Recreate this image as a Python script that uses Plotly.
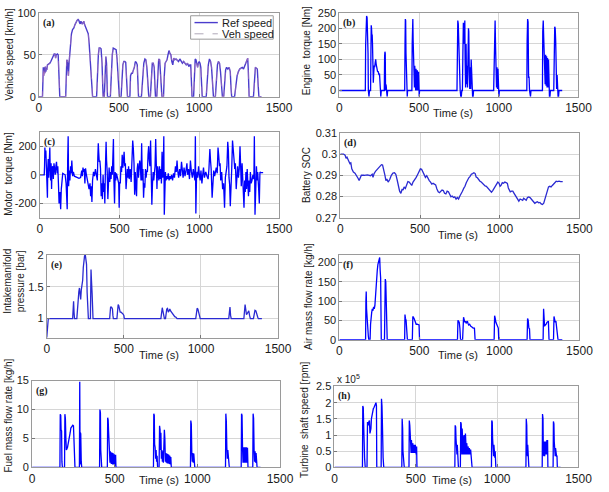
import plotly.graph_objects as go

W, H = 609, 492

# ---------------- data (time [s], value) ----------------
REF_SPEED = [(0,0),(22,0),(27,35),(30,25),(33,35),(37,28),(40,36),(43,30),(46,34),(49,32),(53,38),(60,39),(68,40),(74,42),(80,45),(88,50),(95,51),(100,51),(104,46),(108,50),(115,51),(120,50),(125,30),(130,0),
 (167,0),(170,40),(174,44),(178,43),(181,30),(184,25),(188,40),(193,55),(198,65),(203,75),(210,80),(218,82),(225,86),(232,90),(238,91),(244,92),(249,91),(254,88),(258,87),(262,90),(266,89),(270,87),(275,88),(280,90),(285,86),(290,84),(296,80),(302,78),(308,75),(313,65),(320,45),(326,25),(331,8),(335,0),
 (360,0),(366,35),(371,50),(376,58),(382,58),(388,57),(394,40),(398,15),(401,0),(408,0),(413,35),(418,48),(422,40),(425,15),(428,0),
 (446,0),(452,30),(458,50),(464,58),(470,57),(476,57),(482,56),(488,45),(495,25),(502,0),(513,0),(518,25),(524,38),(530,42),(536,42),(542,41),(548,20),(553,0),
 (568,0),(572,25),(578,28),(584,28),(590,32),(596,35),(602,42),(608,41),(614,38),(618,15),(622,0),(640,0),(648,25),(655,40),(662,45),(668,44),(674,35),(680,15),(686,0),
 (696,0),(702,25),(708,40),(714,40),(720,35),(724,15),(728,0),(736,0),(742,30),(748,45),(754,44),(760,30),(765,10),(768,0),
 (778,0),(783,25),(788,40),(794,42),(800,44),(806,50),(812,55),(818,52),(824,50),(830,42),(836,38),(842,46),(848,44),(856,45),(864,44),(872,42),(880,45),(888,43),(896,40),(904,42),(912,40),(920,38),(928,40),(936,36),(942,38),(948,38),(952,20),(956,0),
 (966,0),(971,30),(976,45),(981,44),(986,38),(991,35),(996,40),(1001,42),(1006,40),(1011,35),(1016,15),(1020,0),
 (1045,0),(1052,25),(1058,38),(1065,45),(1072,42),(1078,35),(1084,15),(1090,0),(1102,0),(1108,25),(1115,38),(1121,42),(1128,40),(1134,30),(1140,10),(1146,0),
 (1154,0),(1160,20),(1166,32),(1172,35),(1180,33),(1188,35),(1195,30),(1200,10),(1204,0),
 (1222,0),(1230,15),(1238,25),(1246,30),(1254,33),(1262,34),(1270,35),(1278,33),(1286,37),(1294,40),(1300,44),(1304,46),(1308,30),(1313,0),
 (1340,0),(1346,25),(1352,35),(1358,34),(1364,33),(1369,15),(1374,0),(1390,0)]

ENGINE_TORQUE = [(0,0),(163,0),(165,145),(168,230),(171,240),(174,235),(177,200),(180,120),(182,0),(184,-20),(186,-20),(189,0),
 (196,0),(198,120),(200,210),(202,200),(204,175),(206,180),(208,150),(210,100),(213,25),(216,60),(219,80),(222,75),(225,90),(228,100),(231,85),(234,70),(237,65),(240,60),(243,62),(246,55),(249,50),(252,55),(254,40),(256,0),(258,-20),(260,-20),(263,0),
 (282,0),(284,110),(286,125),(288,120),(290,0),(292,20),(294,15),(296,0),(298,-20),(300,-20),(303,0),
 (410,0),(412,150),(414,230),(416,225),(418,120),(420,80),(422,0),(424,-20),(426,-20),(428,0),
 (455,0),(457,150),(459,225),(461,230),(463,160),(465,100),(467,20),(469,80),(471,10),(473,80),(475,5),(477,75),(479,0),(481,70),(483,5),(485,70),(487,0),(489,65),(491,5),(493,60),(495,0),(497,60),(499,0),(501,-20),(503,0),
 (738,0),(740,180),(743,225),(746,215),(749,140),(752,100),(755,50),(758,0),(762,-20),(765,-20),(768,0),
 (772,0),(775,120),(778,218),(781,200),(784,150),(787,225),(789,100),(792,10),(795,150),(798,20),(801,80),(804,10),(807,80),(810,200),(812,190),(815,60),(818,5),(821,75),(824,5),(827,100),(830,50),(833,0),(836,-20),(839,-20),(842,0),
 (968,0),(971,150),(974,215),(977,225),(980,140),(983,60),(986,10),(989,75),(992,5),(995,70),(998,0),(1001,-20),(1004,0),
 (1176,0),(1178,160),(1181,230),(1184,220),(1187,40),(1190,45),(1193,0),(1196,-20),(1199,-20),(1202,0),
 (1274,0),(1276,190),(1279,225),(1282,170),(1285,110),(1288,120),(1291,20),(1294,115),(1297,15),(1300,110),(1303,10),(1306,105),(1309,10),(1312,100),(1315,0),(1318,-20),(1321,-20),(1324,0),
 (1345,0),(1348,135),(1351,205),(1354,200),(1357,160),(1360,60),(1363,5),(1366,50),(1369,0),(1372,-20),(1375,-20),(1378,0),(1398,0)]

MOTOR_TORQUE = [(0,0),(27,0),(29,60),(31,190),(34,120),(37,170),(40,40),(43,100),(45,-60),(47,-160),(49,40),(52,110),(55,-20),(58,130),(62,190),(64,60),(67,-40),(70,80),(73,-100),(76,50),(80,60),(84,-30),(88,80),(92,40),(96,0),(100,60),(104,90),(108,10),(112,60),(116,-60),(120,-200),(125,-120),(130,-240),(134,-100),(138,0),(143,10),(150,5),(158,0),(164,-60),(168,-150),(171,-240),(174,100),(177,270),(180,-80),(184,30),(188,-40),(192,60),(196,10),(200,100),(205,-10),(210,20),(216,-10),(225,-15),(235,-20),(245,-25),(255,-20),(262,30),(266,-10),(270,50),(274,20),(278,40),(282,-60),(286,45),(290,10),(296,-20),(302,-60),(308,-100),(314,-60),(318,-150),(322,-80),(326,-190),(330,-40),(336,20),(342,-10),(348,40),(354,0),(360,-40),(363,120),(366,220),(369,150),(372,90),(376,100),(380,40),(384,-150),(388,-60),(392,-170),(396,0),(400,-120),(404,-60),(407,-200),(411,60),(415,230),(418,100),(422,20),(426,-170),(430,-40),(434,50),(438,-50),(442,20),(446,-30),(450,60),(454,0),(458,100),(461,250),(464,-40),(468,-200),(472,20),(476,-40),(480,10),(484,-20),(488,-30),(494,-60),(497,-230),(500,-50),(504,-60),(508,60),(512,20),(516,140),(520,50),(524,100),(528,160),(532,60),(536,80),(540,-100),(544,10),(548,40),(552,-20),(556,60),(560,-30),(566,40),(572,-50),(578,120),(582,240),(586,180),(590,80),(594,-140),(598,20),(602,-80),(606,-150),(610,40),(614,80),(618,-20),(622,40),(626,100),(630,60),(634,-40),(638,220),(642,-40),(646,40),(650,-160),(654,-60),(658,-90),(662,40),(666,-20),(670,30),(674,20),(678,140),(682,200),(686,100),(690,60),(694,240),(698,40),(702,-210),(706,-60),(710,20),(714,-40),(718,40),(722,60),(726,250),(730,-60),(734,-100),(738,60),(742,20),(746,-40),(750,60),
 (754,-30),(758,40),(762,-60),(766,160),(770,-20),(774,60),(777,270),(780,-280),(783,-20),(787,20),(791,-40),(795,-10),(800,-30),(805,10),(810,-40),(815,-10),(820,-30),(826,0),(832,-40),(838,10),(844,-20),(850,60),(855,20),(860,100),(864,30),(870,-20),(876,40),(882,-10),(888,90),(892,20),(898,-20),(904,50),(910,-10),(916,30),(922,80),(926,0),(932,40),(938,-30),(944,100),(950,20),(956,-20),(962,40),(968,-20),(972,-40),(975,270),(978,-270),(982,-30),(986,20),(990,-20),(995,60),(1000,0),(1005,-40),(1010,30),(1016,-60),(1022,10),(1026,50),(1032,-20),(1040,20),(1048,-10),(1055,-30),(1060,40),(1066,180),(1070,100),(1074,40),(1080,-160),(1084,-20),(1090,30),(1096,-10),(1100,20),(1106,50),(1112,10),(1117,190),(1121,140),(1126,60),(1130,80),(1134,-40),(1140,20),(1146,-100),(1152,-60),(1158,-230),(1163,-20),(1168,20),(1173,60),(1178,230),(1182,170),(1186,-20),(1190,-70),(1194,-220),(1198,-20),(1203,40),(1208,240),(1212,150),(1218,100),(1222,40),(1226,80),(1231,-100),(1236,0),(1240,60),(1245,-20),(1250,40),(1255,200),(1259,60),(1263,-80),(1268,80),(1272,-40),(1276,-120),(1280,-230),(1284,-40),(1288,-120),(1292,20),(1296,-100),(1300,40),(1304,-60),(1308,-150),(1312,-40),(1316,-120),(1320,20),(1325,-60),(1330,-40),(1336,0),(1342,-30),(1345,270),(1349,-280),(1354,10),(1358,60),(1362,-40),(1366,20),(1372,-100),(1376,-200),(1380,20),(1386,15),(1400,15)]

BATTERY_SOC = [(0,0.300),(20,0.300),(30,0.2995),(36,0.298),(42,0.2985),(48,0.297),(54,0.2965),(60,0.2955),(66,0.2958),(72,0.293),(82,0.2915),(92,0.291),(102,0.290),(112,0.2885),(118,0.2875),(124,0.289),(132,0.290),(150,0.290),(170,0.2902),(190,0.2898),(200,0.2905),(205,0.289),(212,0.2908),(222,0.292),(235,0.293),(248,0.2945),(258,0.295),(265,0.2948),(272,0.293),(280,0.290),(286,0.2875),(292,0.2882),(300,0.2868),(310,0.288),(320,0.290),(330,0.291),(340,0.2912),(348,0.2905),(356,0.288),(364,0.285),(372,0.2825),(380,0.2815),(388,0.2835),(394,0.283),(400,0.2845),(408,0.2838),(416,0.2855),(424,0.287),(432,0.2868),(440,0.2862),(448,0.2852),(456,0.2868),(466,0.2878),(476,0.289),(486,0.2905),(494,0.2918),(502,0.293),(510,0.2928),(518,0.2915),(526,0.2895),(534,0.289),(542,0.2898),(550,0.2885),(558,0.2875),(566,0.2868),(574,0.2858),(582,0.2862),(590,0.2858),(598,0.2855),(606,0.2835),(614,0.2822),(622,0.2818),(630,0.2822),(638,0.283),(646,0.2828),(654,0.2815),(662,0.2812),(670,0.2825),(678,0.2822),(686,0.281),(694,0.2798),(702,0.2802),(710,0.2795),(718,0.2798),(726,0.2788),(734,0.2795),(742,0.2788),(750,0.2802),(758,0.2818),(766,0.2825),(774,0.2838),(782,0.2848),(790,0.2865),(798,0.2878),(806,0.2888),(814,0.2895),(822,0.2905),(830,0.2908),(838,0.2912),(846,0.2908),(852,0.2892),(860,0.2888),(868,0.2878),(876,0.2872),(884,0.2868),(892,0.2862),(900,0.2855),(908,0.285),(916,0.2848),(924,0.2842),(932,0.2835),(940,0.2825),(948,0.282),(956,0.2828),(964,0.2838),(972,0.2852),(980,0.2862),(988,0.2868),(996,0.2862),(1002,0.2848),(1008,0.2852),(1016,0.2865),(1024,0.2862),(1032,0.2868),(1040,0.2865),(1048,0.2862),(1054,0.284),(1060,0.2832),(1066,0.2822),(1074,0.2825),(1082,0.2825),(1090,0.2815),(1098,0.2805),(1106,0.279),(1114,0.2782),(1120,0.2778),(1128,0.2788),(1136,0.2785),(1144,0.2782),(1150,0.2792),(1158,0.2788),(1166,0.2782),(1174,0.2795),(1182,0.2798),(1190,0.2795),(1198,0.2788),(1206,0.2778),(1214,0.2772),(1220,0.2768),(1228,0.2772),(1236,0.2775),(1244,0.277),(1252,0.2772),(1260,0.2765),(1268,0.2762),(1276,0.2768),(1284,0.279),(1292,0.2815),(1300,0.2835),(1306,0.2845),(1314,0.2848),(1322,0.2845),(1330,0.2852),(1338,0.2858),(1346,0.2868),(1354,0.2872),(1362,0.287),(1372,0.2872),(1382,0.287),(1395,0.287)]

MANIFOLD_PRESSURE = [(0,0.7),(3,0.85),(6,0.97),(10,1.0),(168,1.0),(171,1.15),(174,1.27),(177,1.1),(180,1.0),(195,1.0),(199,1.2),(203,1.3),(208,1.42),(212,1.48),(216,1.35),(220,1.3),(224,1.45),(228,1.5),(233,1.6),(237,1.8),(241,1.95),(245,1.98),(250,2.0),(254,1.95),(258,1.85),(262,1.4),(266,1.1),(270,1.0),
 (283,1.0),(287,1.77),(290,1.6),(294,1.4),(297,1.1),(300,1.0),(408,1.0),(411,1.15),(414,1.18),(420,1.18),(426,1.15),(429,1.05),(432,1.0),
 (455,1.0),(459,1.15),(463,1.22),(467,1.2),(471,1.12),(476,1.1),(482,1.1),(489,1.09),(495,1.07),(500,1.05),(503,1.0),
 (740,1.0),(744,1.12),(749,1.17),(753,1.12),(758,1.05),(763,1.0),(770,1.0),(774,1.1),(778,1.15),(783,1.16),(788,1.1),(793,1.12),(798,1.15),(803,1.12),(808,1.1),(815,1.07),(822,1.05),(830,1.03),(838,1.02),(845,1.0),
 (966,1.0),(970,1.1),(975,1.16),(980,1.15),(985,1.08),(990,1.04),(995,1.0),(1180,1.0),(1184,1.12),(1188,1.18),(1192,1.05),(1196,1.0),
 (1278,1.0),(1282,1.15),(1286,1.22),(1290,1.15),(1295,1.06),(1300,1.08),(1306,1.12),(1310,1.12),(1315,1.05),(1320,1.0),
 (1340,1.0),(1345,1.08),(1350,1.13),(1356,1.12),(1362,1.05),(1368,1.02),(1372,1.0),(1395,1.0)]

AIR_FLOW = [(0,0),(164,0),(166,100),(168,125),(170,80),(172,60),(175,40),(178,35),(181,10),(184,0),(192,0),(195,40),(198,60),(202,70),(206,80),(210,75),(214,85),(218,80),(222,88),(226,120),(229,150),(233,170),(237,180),(241,195),(245,200),(249,205),(252,213),(255,180),(258,160),(260,80),(262,0),
 (282,0),(284,150),(287,157),(290,150),(293,80),(296,20),(299,0),(408,0),(410,65),(413,55),(417,50),(421,30),(425,0),
 (456,0),(459,60),(463,58),(467,55),(471,48),(475,42),(480,40),(486,40),(492,38),(498,38),(501,0),
 (738,0),(741,50),(745,48),(749,45),(753,30),(757,0),(770,0),(773,50),(776,58),(780,52),(784,45),(788,48),(792,42),(796,46),(800,48),(804,42),(808,38),(814,40),(820,35),(828,33),(836,30),(844,30),(848,0),
 (967,0),(970,62),(974,55),(978,45),(983,40),(988,35),(993,30),(996,0),(1173,0),(1176,55),(1180,50),(1184,30),(1188,28),(1191,0),
 (1273,0),(1276,80),(1279,50),(1282,35),(1287,38),(1292,40),(1297,45),(1302,48),(1306,48),(1310,0),
 (1338,0),(1341,60),(1345,55),(1349,45),(1353,48),(1357,30),(1362,28),(1366,0),(1393,0)]

FUEL_FLOW = [(0,0),(168,0),(170,9.2),(173,9.0),(175,6.5),(178,6.3),(180,1.0),(183,0),(196,0),(198,9.2),(201,8.5),(204,5.0),(207,3.0),(210,3.2),(214,3.5),(218,4.0),(222,4.5),(226,5.0),(230,6.0),(234,6.8),(238,7.0),(242,7.2),(246,7.3),(250,7.2),(253,5.0),(256,2.0),(259,0),
 (286,0),(288,14.8),(290,0.5),(292,6.0),(294,5.8),(297,1.0),(300,0),(408,0),(410,10.0),(413,9.5),(415,3.0),(418,1.0),(421,0),
 (455,0),(457,8.6),(460,8.2),(462,6.5),(465,3.0),(467,1.0),(469,3.0),(471,0.8),(473,2.8),(475,0.7),(477,2.7),(479,0.6),(481,2.6),(483,0.6),(485,2.5),(487,0.5),(489,2.5),(491,0.5),(493,2.4),(495,0.5),(497,2.3),(499,0.4),(501,2.3),(503,0.5),(505,2.2),(507,0),
 (734,0),(736,9.3),(739,9.0),(741,4.0),(744,3.5),(747,1.5),(750,3.0),(753,1.0),(756,2.0),(759,0),
 (768,0),(771,7.2),(774,6.5),(777,3.0),(779,6.0),(782,1.5),(785,3.0),(788,1.0),(791,2.8),(794,0.8),(797,3.0),(800,6.5),(803,5.0),(806,1.0),(809,2.5),(812,0.8),(815,2.4),(818,0.7),(821,2.3),(824,0.7),(827,2.2),(830,0.6),(833,2.0),(836,0.5),(839,1.8),(842,0),
 (958,0),(960,8.1),(963,7.5),(966,2.5),(969,1.0),(972,2.5),(975,0.8),(978,2.4),(981,0.6),(984,0),
 (1170,0),(1172,9.3),(1175,8.0),(1178,3.5),(1181,1.5),(1184,3.0),(1187,1.0),(1190,1.5),(1193,0),
 (1265,0),(1267,9.3),(1270,9.0),(1273,3.5),(1276,0.8),(1279,3.5),(1282,0.8),(1285,3.5),(1288,0.8),(1291,3.5),(1294,0.8),(1297,3.5),(1300,0.8),(1303,3.4),(1306,0),
 (1335,0),(1337,9.3),(1340,8.5),(1343,3.0),(1346,1.0),(1349,2.8),(1352,0.8),(1355,2.5),(1358,1.0),(1361,0),(1382,0)]

TURBINE_SPEED_E5 = [(0,0),(172,0),(174,1.9),(177,1.85),(179,1.4),(181,0.35),(185,0.3),(189,0),(200,0),(203,1.4),(206,1.35),(209,1.3),(212,1.42),(215,1.45),(218,1.05),(221,1.1),(224,1.2),(227,1.5),(231,1.65),(235,1.75),(239,1.82),(243,1.85),(247,1.9),(251,1.95),(255,2.0),(258,1.9),(260,0),
 (287,0),(289,2.12),(292,1.9),(294,1.5),(296,0.6),(299,0.3),(303,0),(414,0),(416,1.5),(419,1.2),(421,0.5),(424,0.3),(427,0.3),(429,0),
 (458,0),(460,1.45),(463,1.3),(465,1.1),(467,0.5),(469,0.95),(471,0.45),(473,0.85),(475,0.45),(477,0.8),(479,0.45),(481,0.75),(483,0.45),(485,0.72),(487,0.45),(489,0.7),(491,0.45),(493,0.7),(495,0.45),(497,0.7),(499,0.45),(501,0.68),(503,0.4),(505,0.65),(507,0),
 (740,0),(742,1.3),(745,1.25),(747,0.9),(749,0.5),(751,0.8),(753,0.4),(755,0.7),(757,0.3),(760,0.3),(762,0),
 (774,0),(776,1.4),(779,1.35),(781,1.0),(783,0.4),(785,1.2),(787,0.4),(789,1.0),(791,0.4),(793,0.9),(795,0.4),(797,1.0),(799,0.4),(801,0.85),(803,0.4),(805,1.05),(807,0.4),(809,0.8),(811,0.4),(813,0.75),(815,0.4),(817,0.7),(819,0.4),(821,0.65),(823,0.4),(825,0.65),(827,0.4),(829,0.6),(831,0.4),(833,0.6),(835,0.4),(837,0.55),(839,0.4),(841,0.5),(843,0.4),(846,0),
 (965,0),(967,1.45),(970,1.4),(972,0.9),(974,0.4),(976,0.8),(978,0.35),(980,0.7),(982,0.35),(984,0.6),(986,0.3),(988,0.5),(990,0.3),(992,0),
 (1177,0),(1179,1.5),(1182,1.3),(1184,0.6),(1186,0.35),(1188,0.7),(1190,0.3),(1193,0.3),(1195,0),
 (1277,0),(1279,1.65),(1282,1.5),(1284,0.4),(1286,0.8),(1288,0.35),(1290,0.8),(1292,0.35),(1294,0.8),(1296,0.35),(1298,0.8),(1300,0.4),(1302,0.85),(1304,0.4),(1306,0.85),(1308,0.4),(1310,0.85),(1312,0),
 (1344,0),(1346,1.42),(1349,1.35),(1351,0.8),(1353,0.4),(1355,0.75),(1357,0.35),(1359,0.6),(1361,0.35),(1363,0.5),(1365,0.35),(1368,0.35),(1370,0),(1390,0)]

X_TICKS = [0, 500, 1000, 1500]
X_TITLE = "Time (s)"

# ---------------- panel styling (pixel boxes) ----------------
FONT = "Liberation Sans, Arial, sans-serif"
SERIF = "Liberation Serif, Times New Roman, serif"
BLUE = "#0000ff"

panels = [
    dict(label="(a)", data=REF_SPEED, box=(37, 284, 7, 93), yr=[0, 100], yt=[0, 50, 100], ytt=["0", "50", "100"],
         ytitle="Vehicle speed [km/h]", ytpos=(7, 50), xtpos=(160, 110), color="#4a3ccc"),
    dict(label="(b)", data=ENGINE_TORQUE, box=(346, 592, 7, 93), yr=[-20, 250], yt=[0, 50, 100, 150, 200, 250],
         ytt=["0", "50", "100", "150", "200", "250"], ytitle="Engine  torque [Nm]", ytpos=(313, 46), xtpos=(463, 110), color=BLUE),
    dict(label="(c)", data=MOTOR_TORQUE, box=(38, 284, 129, 217), yr=[-300, 300], yt=[-200, 0, 200],
         ytt=["-200", "0", "200"], ytitle="Motor  torque [Nm]", ytpos=(6, 172), xtpos=(160, 233), color=BLUE),
    dict(label="(d)", data=BATTERY_SOC, box=(347, 593, 130, 217), yr=[0.27, 0.31], yt=[0.27, 0.28, 0.29, 0.30, 0.31],
         ytt=["0.27", "0.28", "0.29", "0.3", "0.31"], ytitle="Battery SOC", ytpos=(313, 173), xtpos=(468, 235), color="#2a2ad2"),
    dict(label="(e)", data=MANIFOLD_PRESSURE, box=(45, 283, 255, 340), yr=[0.7, 2.0], yt=[1, 1.5, 2],
         ytt=["1", "1.5", "2"], ytitle="Intakemanifold<br>pressure [bar]", ytpos=(11, 282), xtpos=(160, 358), color="#2a2ad2"),
    dict(label="(f)", data=AIR_FLOW, box=(346, 593, 255, 342), yr=[0, 220], yt=[0, 50, 100, 150, 200],
         ytt=["0", "50", "100", "150", "200"], ytitle="Air mass flow rate [kg/h]", ytpos=(314, 298), xtpos=(468, 358), color=BLUE),
    dict(label="(g)", data=FUEL_FLOW, box=(30, 285, 384, 473), yr=[0, 15], yt=[0, 5, 10, 15],
         ytt=["0", "5", "10", "15"], ytitle="Fuel mass flow rate [kg/h]", ytpos=(6, 420), xtpos=(160, 486), color=BLUE),
    dict(label="(h)", data=TURBINE_SPEED_E5, box=(341, 592, 390, 473), yr=[0, 2.5], yt=[0, 0.5, 1, 1.5, 2, 2.5],
         ytt=["0", "0.5", "1", "1.5", "2", "2.5"], ytitle="Turbine  shaft speed [rpm]", ytpos=(310, 424), xtpos=(462, 486), color=BLUE),
]

def px(x):
    return x / W

def py(y):
    return 1 - y / H

fig = go.Figure()
annotations = []
layout = {}

for i, p in enumerate(panels, start=1):
    sfx = "" if i == 1 else str(i)
    x0, x1, y0, y1 = p["box"]
    t = [d[0] for d in p["data"]]
    v = [d[1] for d in p["data"]]
    if i == 1:
        fig.add_trace(go.Scatter(x=t, y=v, mode="lines", name="Ref speed",
                                 line=dict(color=p["color"], width=1.4), xaxis="x", yaxis="y", showlegend=False))
        fig.add_trace(go.Scatter(x=t, y=v, mode="lines", name="Veh speed",
                                 line=dict(color="rgba(215,140,175,0.55)", width=0.8, dash="dash"),
                                 xaxis="x", yaxis="y", showlegend=False))
    else:
        fig.add_trace(go.Scatter(x=t, y=v, mode="lines", line=dict(color=p["color"], width=1.3),
                                 xaxis="x" + sfx, yaxis="y" + sfx, showlegend=False))
    common = dict(showgrid=True, gridcolor="#d6d6d6", gridwidth=1, zeroline=False,
                  showline=True, linecolor="#9a9a9a", linewidth=1, mirror=True,
                  ticks="inside", ticklen=3, tickcolor="#777")
    layout["xaxis" + sfx] = dict(domain=[px(x0), px(x1)], anchor="y" + sfx, range=[0, 1500],
                                 tickvals=X_TICKS, ticktext=[str(k) for k in X_TICKS],
                                 tickfont=dict(family=FONT, size=12, color="#1a1a1a"), **common)
    layout["yaxis" + sfx] = dict(domain=[py(y1), py(y0)], anchor="x" + sfx, range=p["yr"],
                                 tickvals=p["yt"], ticktext=p["ytt"],
                                 tickfont=dict(family=FONT, size=11, color="#1a1a1a"), **common)
    # y-axis title
    annotations.append(dict(text=p["ytitle"], x=px(p["ytpos"][0]), y=py(p["ytpos"][1]), xref="paper", yref="paper",
                            xanchor="center", yanchor="middle", textangle=-90, showarrow=False,
                            font=dict(family=FONT, size=10, color="#1a1a1a")))
    # x-axis title
    annotations.append(dict(text=X_TITLE, x=px(p["xtpos"][0]), y=py(p["xtpos"][1]), xref="paper", yref="paper",
                            xanchor="center", yanchor="middle", showarrow=False,
                            font=dict(family=FONT, size=11, color="#1a1a1a")))
    # panel label
    annotations.append(dict(text="<b>" + p["label"] + "</b>", x=px(x0 + 2), y=py(y0 + 2), xref="paper", yref="paper",
                            xanchor="left", yanchor="top", showarrow=False,
                            font=dict(family=SERIF, size=10, color="#1a1a1a")))

# exponent label for panel (h)
annotations.append(dict(text="x 10<sup>5</sup>", x=px(342), y=py(382), xref="paper", yref="paper",
                        xanchor="left", yanchor="middle", showarrow=False,
                        font=dict(family=FONT, size=10, color="#1a1a1a")))

# legend for panel (a)
shapes = [
    dict(type="rect", xref="paper", yref="paper", x0=px(193), x1=px(278), y0=py(34), y1=py(10),
         line=dict(color="#9a9a9a", width=1), fillcolor="white", layer="above"),
    dict(type="line", xref="paper", yref="paper", x0=px(197), x1=px(221), y0=py(17), y1=py(17),
         line=dict(color="#4a3ccc", width=1.4), layer="above"),
    dict(type="line", xref="paper", yref="paper", x0=px(197), x1=px(221), y0=py(28.5), y1=py(28.5),
         line=dict(color="#b0a8b8", width=1, dash="dash"), layer="above"),
]
annotations.append(dict(text="Ref speed", x=px(223), y=py(17), xref="paper", yref="paper", xanchor="left",
                        yanchor="middle", showarrow=False, font=dict(family=FONT, size=11, color="#1a1a1a")))
annotations.append(dict(text="Veh speed", x=px(223), y=py(28.5), xref="paper", yref="paper", xanchor="left",
                        yanchor="middle", showarrow=False, font=dict(family=FONT, size=11, color="#1a1a1a")))

fig.update_layout(width=W, height=H, margin=dict(l=0, r=0, t=0, b=0, pad=0),
                  paper_bgcolor="white", plot_bgcolor="white",
                  annotations=annotations, shapes=shapes, **layout)

fig.write_html("out.html")
